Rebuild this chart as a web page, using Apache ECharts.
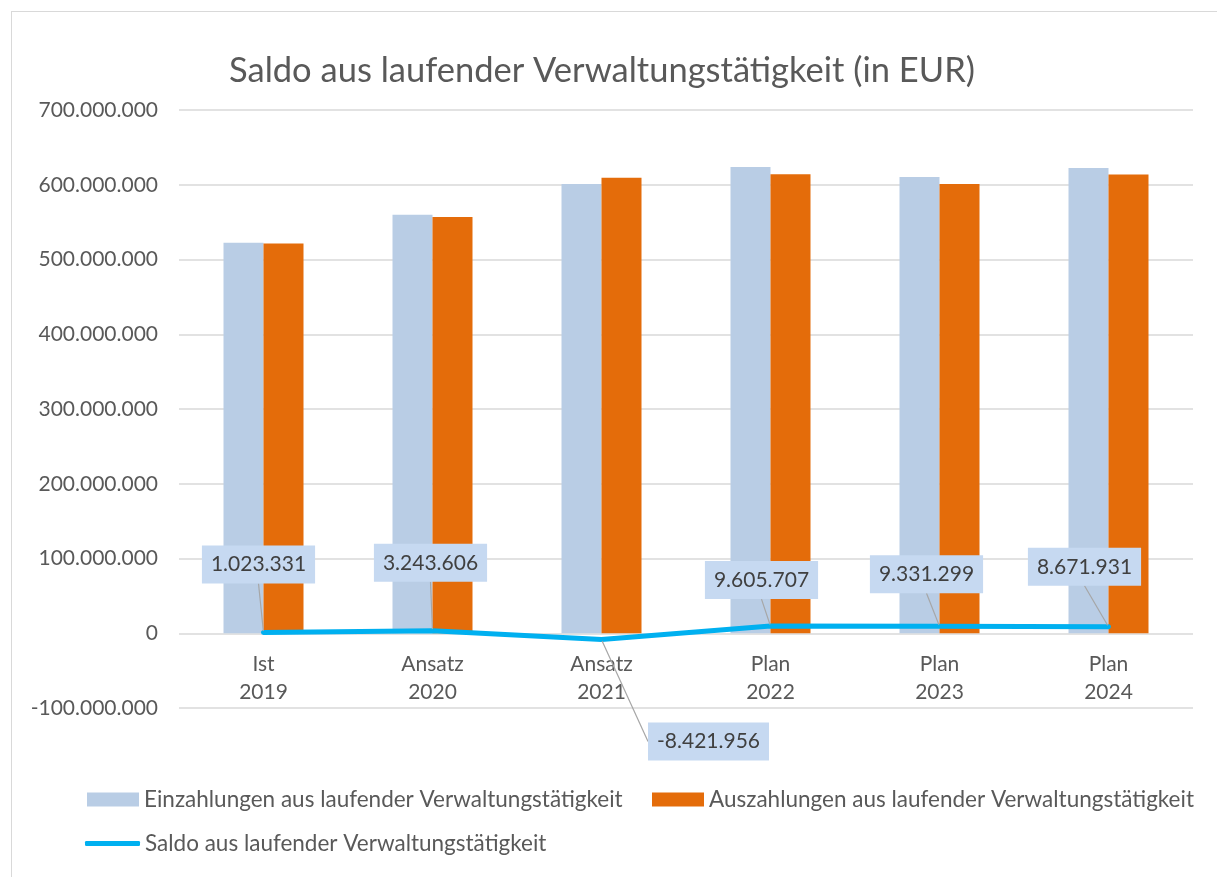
<!DOCTYPE html>
<html>
<head>
<meta charset="utf-8">
<script src="https://cdn.jsdelivr.net/npm/echarts@6/dist/echarts.min.js"></script>
<style>
  html, body { margin: 0; padding: 0; background: #fff; }
  #frame { position: absolute; left: 11px; top: 11px; width: 1300px; height: 1000px; border: 1px solid #D9D9D9; }
  #main { position: absolute; left: 0; top: 0; width: 1217px; height: 877px; }
</style>
</head>
<body>
<div id="frame"></div>
<div id="main"></div>
<script>
// chart data
const categories = ["Ist\n2019", "Ansatz\n2020", "Ansatz\n2021", "Plan\n2022", "Plan\n2023", "Plan\n2024"];
const einzahlungen = [522400000, 559900000, 601000000, 623800000, 610400000, 622400000];
const auszahlungen = [521400000, 556700000, 609400000, 614200000, 601100000, 613700000];
const saldo = [1023331, 3243606, -8421956, 9605707, 9331299, 8671931];
const seriesNames = [
  "Einzahlungen aus laufender Verwaltungstätigkeit",
  "Auszahlungen aus laufender Verwaltungstätigkeit",
  "Saldo aus laufender Verwaltungstätigkeit"
];
// where each saldo label box sits relative to its point
const labelShift = [[-5, -68], [-2, -68], [107, 102], [-9, -46], [-13, -52], [-24, -60]];

const FONT = "Lato";

function fmt(v) {
  var s = Math.abs(Math.round(v)).toString().replace(/\B(?=(\d{3})+(?!\d))/g, ".");
  return (v < 0 ? "-" : "") + s;
}

let MyEcharts = echarts.init(document.getElementById("main"));
let legendText = { color: "#595959", fontSize: 22.5, fontFamily: FONT };
let option = {
  animation: false,
  textStyle: { fontFamily: FONT },
  title: {
    text: "Saldo aus laufender Verwaltungstätigkeit (in EUR)",
    left: 597,
    textAlign: "center",
    top: 48,
    textStyle: { color: "#595959", fontSize: 34.5, fontWeight: "normal", fontFamily: FONT }
  },
  grid: { left: 179, right: 24, top: 110, bottom: 169 },
  legend: [
    {
      data: [seriesNames[0]], left: 82, top: 783,
      itemWidth: 52, itemHeight: 14, icon: "rect",
      textStyle: legendText
    },
    {
      data: [seriesNames[1]], left: 647, top: 783,
      itemWidth: 52, itemHeight: 14, icon: "rect",
      textStyle: legendText
    },
    {
      data: [seriesNames[2]], left: 80, top: 827,
      itemWidth: 55, itemHeight: 5, icon: "roundRect",
      textStyle: legendText
    }
  ],
  xAxis: {
    type: "category",
    data: categories,
    axisLine: { show: false },
    axisTick: { show: false },
    // labels sit just under the zero line, as in the original
    axisLabel: { color: "#595959", fontSize: 21, lineHeight: 28, margin: -58, fontFamily: FONT }
  },
  yAxis: {
    type: "value",
    min: -100000000,
    max: 700000000,
    interval: 100000000,
    axisLine: { show: false },
    axisTick: { show: false },
    splitLine: { lineStyle: { color: "#D9D9D9", width: 1.5 } },
    axisLabel: { color: "#595959", fontSize: 21, margin: 21, fontFamily: FONT, formatter: fmt }
  },
  series: [
    {
      name: seriesNames[0],
      type: "bar",
      data: einzahlungen,
      barWidth: 40,
      barGap: "0%",
      itemStyle: { color: "#B9CDE5" }
    },
    {
      name: seriesNames[1],
      type: "bar",
      data: auszahlungen,
      barWidth: 40,
      itemStyle: { color: "#E46C0A" }
    },
    {
      name: seriesNames[2],
      type: "line",
      data: saldo,
      z: 5,
      symbol: "circle",
      symbolSize: 3,
      itemStyle: { color: "#00B0F0" },
      lineStyle: { color: "#00B0F0", width: 5, cap: "round", join: "round" },
      label: {
        show: true,
        position: "inside",
        formatter: function (p) { return fmt(p.value); },
        color: "#404040",
        fontSize: 21,
        lineHeight: 22,
        fontFamily: FONT,
        backgroundColor: "#C6D9F1",
        padding: [8, 9]
      },
      labelLine: { show: true, lineStyle: { color: "#A6A6A6", width: 1.2 } },
      labelLayout: function (p) {
        return { dx: labelShift[p.dataIndex][0], dy: labelShift[p.dataIndex][1] };
      }
    }
  ]
};
MyEcharts.setOption(option);
window.addEventListener("resize", () => {
  MyEcharts.resize();
});
</script>
</body>
</html>
